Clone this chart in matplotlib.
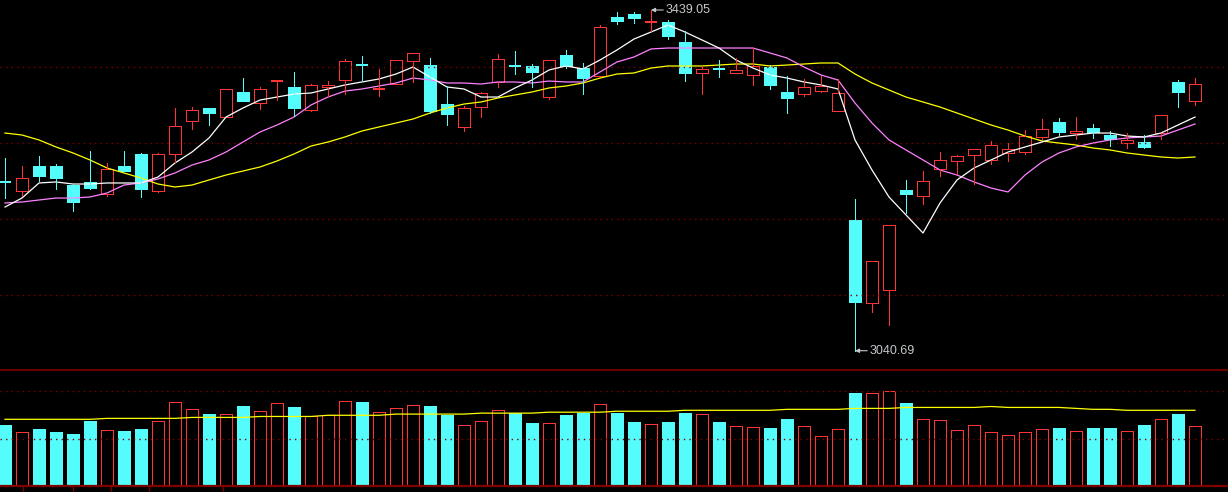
import numpy as np
import matplotlib
matplotlib.use('Agg')
import matplotlib.pyplot as plt
from matplotlib.patches import Rectangle
from matplotlib.lines import Line2D

# daily candles (index points)
opens = [3237.95, 3227.42, 3256.65, 3256.65, 3234.44, 3237.95, 3223.92, 3256.65, 3270.68, 3227.42,
         3270.68, 3309.27, 3324.47, 3313.94, 3343.17, 3330.31, 3355.45, 3349.02, 3322.13, 3349.02,
         3357.20, 3374.74, 3346.10, 3352.53, 3379.42, 3374.74, 3329.14, 3302.25, 3325.64, 3354.87,
         3373.57, 3373.57, 3337.33, 3386.43, 3371.23, 3361.88, 3430.86, 3434.37, 3424.43, 3425.02,
         3401.63, 3365.39, 3370.07, 3365.39, 3363.05, 3372.40, 3343.17, 3340.84, 3344.34, 3320.96,
         3193.52, 3096.47, 3111.67, 3228.59, 3221.58, 3253.15, 3262.50, 3269.51, 3263.67, 3271.85,
         3273.02, 3290.56, 3308.10, 3295.24, 3301.08, 3292.90, 3283.54, 3284.71, 3295.24, 3354.87,
         3332.65]
closes = [3236.78, 3242.62, 3244.96, 3242.62, 3214.56, 3230.93, 3253.15, 3250.81, 3229.76, 3270.68,
          3303.42, 3322.13, 3318.62, 3346.68, 3332.65, 3346.68, 3356.03, 3324.47, 3351.36, 3351.36,
          3379.42, 3374.16, 3346.68, 3380.59, 3388.77, 3320.96, 3317.45, 3324.47, 3342.00, 3381.76,
          3372.99, 3366.56, 3380.59, 3373.57, 3359.54, 3419.17, 3426.19, 3429.69, 3425.02, 3408.65,
          3365.39, 3370.07, 3369.48, 3368.90, 3373.57, 3351.36, 3336.16, 3349.02, 3350.19, 3342.00,
          3097.99, 3145.58, 3187.67, 3223.92, 3239.11, 3263.67, 3268.34, 3276.53, 3281.21, 3276.53,
          3291.73, 3299.91, 3296.41, 3297.57, 3296.41, 3288.22, 3287.05, 3278.87, 3316.28, 3343.17,
          3352.53]
highs = [3266.01, 3256.65, 3268.34, 3258.99, 3235.61, 3274.19, 3260.16, 3274.19, 3271.85, 3271.85,
         3324.47, 3325.64, 3324.47, 3346.68, 3359.54, 3349.02, 3357.20, 3366.56, 3352.53, 3356.03,
         3381.76, 3385.26, 3370.07, 3380.59, 3388.77, 3382.93, 3350.19, 3326.80, 3343.17, 3387.60,
         3391.11, 3375.91, 3380.59, 3392.28, 3377.08, 3421.51, 3436.71, 3436.71, 3439.05, 3427.36,
         3414.49, 3373.57, 3380.59, 3382.93, 3394.62, 3374.74, 3361.88, 3358.37, 3361.88, 3358.37,
         3218.07, 3145.58, 3187.67, 3240.28, 3250.81, 3273.02, 3269.51, 3276.53, 3285.88, 3283.54,
         3298.74, 3311.61, 3312.77, 3313.94, 3305.76, 3297.57, 3295.24, 3292.90, 3316.28, 3357.20,
         3359.54]
lows = [3219.24, 3221.58, 3239.11, 3229.76, 3204.04, 3229.76, 3221.58, 3250.81, 3220.41, 3226.25,
        3261.33, 3299.91, 3304.59, 3313.94, 3332.65, 3323.30, 3333.82, 3315.11, 3320.96, 3338.50,
        3340.84, 3356.03, 3338.50, 3352.53, 3354.87, 3318.62, 3304.59, 3297.57, 3313.94, 3349.02,
        3364.22, 3349.02, 3334.99, 3371.23, 3340.84, 3361.88, 3422.68, 3423.85, 3414.49, 3405.14,
        3356.03, 3340.84, 3360.71, 3365.39, 3351.36, 3346.68, 3318.62, 3338.50, 3343.17, 3320.96,
        3040.69, 3085.95, 3070.75, 3201.70, 3212.22, 3244.96, 3247.30, 3235.61, 3258.99, 3262.50,
        3270.68, 3288.22, 3292.90, 3288.22, 3289.39, 3280.04, 3277.70, 3277.70, 3288.22, 3325.64,
        3327.97]

# moving averages as drawn in the chart
ma5 = [3208.7, 3219.2, 3236.8, 3238.0, 3235.6, 3235.6, 3236.8, 3236.8, 3236.8, 3243.8,
       3260.2, 3273.0, 3289.4, 3313.9, 3324.5, 3333.8, 3337.3, 3340.8, 3342.0, 3346.7,
       3351.4, 3354.9, 3358.4, 3364.2, 3372.4, 3360.7, 3349.0, 3346.7, 3337.3, 3337.3,
       3347.9, 3357.2, 3368.9, 3373.6, 3370.1, 3380.6, 3392.3, 3405.1, 3413.3, 3421.5,
       3413.3, 3404.0, 3394.6, 3380.6, 3371.2, 3363.1, 3359.5, 3354.9, 3351.4, 3346.7,
       3287.1, 3252.0, 3220.4, 3199.4, 3178.3, 3213.4, 3240.3, 3254.3, 3263.7, 3273.0,
       3278.9, 3284.7, 3290.6, 3292.9, 3295.2, 3295.2, 3291.7, 3290.6, 3295.2, 3304.6,
       3313.9]
ma10 = [3213.4, 3214.6, 3216.9, 3219.2, 3219.2, 3220.4, 3225.1, 3234.4, 3236.8, 3241.5,
        3248.5, 3257.8, 3263.7, 3273.0, 3284.7, 3296.4, 3304.6, 3313.9, 3328.0, 3337.3,
        3344.3, 3346.7, 3350.2, 3353.7, 3359.5, 3357.2, 3353.7, 3353.7, 3352.5, 3354.9,
        3354.9, 3353.7, 3356.0, 3354.9, 3354.9, 3366.6, 3378.3, 3384.1, 3393.5, 3394.6,
        3394.6, 3394.6, 3394.6, 3394.6, 3394.6, 3388.8, 3382.9, 3372.4, 3363.1, 3357.2,
        3330.3, 3306.9, 3287.1, 3275.4, 3263.7, 3252.0, 3246.1, 3238.0, 3230.9, 3226.3,
        3246.1, 3261.3, 3271.9, 3278.9, 3283.5, 3287.1, 3289.4, 3290.6, 3291.7, 3298.7,
        3305.8]
ma20 = [3295.2, 3292.9, 3287.1, 3278.9, 3271.9, 3263.7, 3254.3, 3248.5, 3242.6, 3235.6,
        3232.1, 3234.4, 3240.3, 3246.1, 3250.8, 3255.5, 3262.5, 3270.7, 3280.0, 3284.7,
        3290.6, 3297.6, 3302.3, 3306.9, 3311.6, 3318.6, 3324.5, 3329.1, 3331.5, 3336.2,
        3339.7, 3343.2, 3347.9, 3350.2, 3353.7, 3359.5, 3364.2, 3365.4, 3371.2, 3373.6,
        3373.6, 3373.6, 3374.7, 3375.9, 3375.9, 3373.6, 3374.7, 3375.9, 3377.1, 3377.1,
        3364.2, 3353.7, 3345.5, 3337.3, 3331.5, 3325.6, 3318.6, 3311.6, 3304.6, 3298.7,
        3291.7, 3285.9, 3283.5, 3281.2, 3277.7, 3275.4, 3271.9, 3269.5, 3267.2, 3266.0,
        3267.2]

# volume (arbitrary units) and its moving average
volumes = [129, 114, 121, 114, 110, 137, 118, 116, 121, 137,
           177, 162, 152, 152, 169, 158, 175, 167, 149, 150,
           179, 177, 156, 164, 171, 169, 150, 128, 137, 160,
           154, 133, 133, 150, 155, 173, 154, 135, 131, 135,
           154, 152, 135, 126, 124, 123, 142, 126, 105, 120,
           196, 196, 200, 175, 141, 139, 118, 128, 114, 107,
           114, 120, 123, 116, 123, 123, 116, 129, 141, 152,
           126]
vol_ma = [141, 141, 141, 141, 141, 141, 143, 143, 143, 143,
          143, 145, 145, 145, 145, 147, 147, 147, 147, 149.5,
          149.5, 149.5, 149.5, 152, 152, 152, 152, 152, 154, 154,
          154, 154, 156, 156, 156, 156, 158, 158, 158, 158,
          160, 160, 160, 160, 160, 160, 162, 162, 162, 162,
          164, 164, 164, 166, 166, 166, 166, 166, 168, 166,
          166, 166, 166, 164, 162, 162, 160, 160, 160, 160,
          160]

price_grid = [3372.4, 3283.5, 3194.7, 3105.8]
vol_grid = [100, 200]

UP = '#ff3434'
DOWN = '#54fcfc'
FRAME = '#800000'
LABEL = '#c4c8cc'
PX = 0.72  # one pixel in points at dpi 100


def draw_candles(ax, width=0.71):
    for i in range(len(opens)):
        o, c, h, l = opens[i], closes[i], highs[i], lows[i]
        up = c >= o
        col = UP if up else DOWN
        top, bot = max(o, c), min(o, c)
        if up:
            # hollow body: wicks stop at the body
            ax.vlines(i, top, h, color=col, lw=PX, antialiased=False)
            ax.vlines(i, l, bot, color=col, lw=PX, antialiased=False)
        else:
            ax.vlines(i, l, h, color=col, lw=PX, antialiased=False)
        if top - bot < 1.5:
            ax.hlines((top + bot) / 2, i - width / 2, i + width / 2, color=col,
                      lw=1.6 * PX, antialiased=False)
        else:
            ax.add_patch(Rectangle((i - width / 2, bot), width, top - bot,
                                   facecolor='black' if up else col, edgecolor=col,
                                   lw=PX, antialiased=False))


def main():
    n = len(opens)
    x = np.arange(n)
    xlim = (-5 / 17, (1228 - 5) / 17)

    fig = plt.figure(figsize=(12.28, 4.92), dpi=100, facecolor='black')
    ax = fig.add_axes([0, 122 / 492, 1, 370 / 492], facecolor='black')
    axv = fig.add_axes([0, 5.7 / 492, 1, 116.3 / 492], facecolor='black')

    # price panel
    for g in price_grid:
        ax.axhline(g, color=FRAME, lw=1, ls=(0, (1, 3)))
    ax.plot(x, ma20, color='#ffff00', lw=0.9)
    ax.plot(x, ma10, color='#ff80ff', lw=0.9)
    ax.plot(x, ma5, color='white', lw=0.9)
    draw_candles(ax)

    hi = int(np.argmax(highs))
    lo = int(np.argmin(lows))
    arrow = dict(arrowstyle='-|>', color=LABEL, lw=0.8, shrinkA=0, shrinkB=0,
                 mutation_scale=6)
    ax.annotate(f'{highs[hi]:.2f}', xy=(hi, highs[hi]), xytext=(hi + 0.88, highs[hi]),
                color=LABEL, fontsize=9, family='Liberation Sans', va='center', ha='left',
                arrowprops=arrow)
    ax.annotate(f'{lows[lo]:.2f}', xy=(lo, lows[lo]), xytext=(lo + 0.88, lows[lo]),
                color=LABEL, fontsize=9, family='Liberation Sans', va='center', ha='left',
                arrowprops=arrow)

    ax.set_xlim(*xlim)
    ax.set_ylim(3018.14, 3450.74)

    # volume panel
    for g in vol_grid:
        axv.axhline(g, color=FRAME, lw=1, ls=(0, (1, 3)))
    colors = [UP if closes[i] >= opens[i] else DOWN for i in range(n)]
    faces = ['black' if closes[i] >= opens[i] else DOWN for i in range(n)]
    axv.bar(x, volumes, width=0.71, color=faces, edgecolor=colors, lw=PX, antialiased=False)
    axv.plot(x, vol_ma, color='#ffff00', lw=0.9)
    axv.set_xlim(*xlim)
    axv.set_ylim(0, 244.8)
    axv.axhline(244.8, color=FRAME, lw=1.2, clip_on=False)
    axv.axhline(0, color=FRAME, lw=1.6, clip_on=False)

    for a in (ax, axv):
        a.set_xticks([])
        a.set_yticks([])
        for s in a.spines.values():
            s.set_visible(False)

    # tab dividers in the bottom strip
    for px in [23, 73, 111, 149, 223]:
        fig.add_artist(Line2D([px / 1228, px / 1228], [0, 5 / 492], color=FRAME, lw=1))

    fig.savefig('out.png', dpi=100, facecolor='black')


if __name__ == '__main__':
    main()
